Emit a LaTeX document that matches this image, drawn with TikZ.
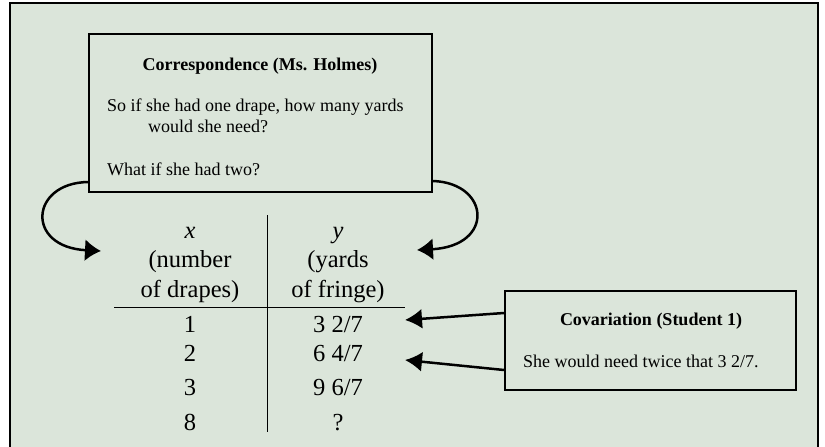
\documentclass[tikz,border=0pt]{standalone}
\usepackage{fontspec}
\setmainfont{Liberation Serif}
\usepackage{tikz}
\usetikzlibrary{calc,arrows.meta}
\definecolor{panel}{HTML}{DBE5DA}

\begin{document}
\begin{tikzpicture}[x=1pt,y=-1pt,
    boxtext/.style={font=\fontsize{18}{21}\selectfont,inner sep=0pt},
    tabtext/.style={font=\fontsize{24.5}{29}\selectfont,inner sep=0pt,anchor=base},
    bigtip/.style={-{Latex[length=16pt,width=22pt]},line width=2.5pt}]
              \useasboundingbox (0,0) rectangle (825,447);
              \fill[white] (0,0) rectangle (825,447);
              \draw[fill=panel,line width=1.3pt] (10,470) -- (10,3) -- (818,3) -- (818,470);
              % correspondence box
              \node[draw,line width=2pt,minimum width=343pt,minimum height=158pt](corr)at(260.5,113){};
              \node[boxtext,font=\fontsize{18}{21}\selectfont\bfseries,anchor=base](corrT)at(260,70){Correspondence (Ms. Holmes)};
              \node[boxtext,anchor=base west](q1)at(107,111){So if she had one drape, how many yards};
              \node[boxtext,anchor=base west](q2)at(148,132){would she need?};
              \node[boxtext,anchor=base west](q3)at(107,175){What if she had two?};
              % table
              \draw[line width=1pt] (267,215) -- (267,432);
              \draw[line width=1pt] (114,307) -- (405,307);
              \node[tabtext](xh)at(190,238){\textit{x}};
              \node[tabtext](xh2)at(190,267){(number};
              \node[tabtext](xh3)at(190,297){of drapes)};
              \node[tabtext](yh)at(338,238){\textit{y}};
              \node[tabtext](yh2)at(338,267){(yards};
              \node[tabtext](yh3)at(338,297){of fringe)};
              \foreach \xv/\yv/\row in {1/3 2\slash 7/332, 2/6 4\slash 7/361, 3/9 6\slash 7/395, 8/?/430}{
                \node[tabtext](x\xv)at(190,\row){\xv};
                \node[tabtext](y\xv)at(338,\row){\yv};
              }
              % covariation box
              \node[draw,line width=2pt,minimum width=291pt,minimum height=99pt](cov)at(650.5,340.5){};
              \node[boxtext,font=\fontsize{18}{21}\selectfont\bfseries,anchor=base](covT)at(651,325){Covariation (Student 1)};
              \node[boxtext,anchor=base west](c1)at(523,367){She would need twice that 3 2/7.};
              % arrows
              \coordinate (ltip) at (101,251);
              \coordinate (rtip) at (417,250);
              \coordinate (tip1) at (405,320);
              \coordinate (tip2) at (405,360);
              \draw[bigtip] ([yshift=11pt]corr.south west) .. controls (30,183) and (25,247) .. (ltip);
              \draw[bigtip] ([yshift=12pt]corr.south east) .. controls (490,183) and (495,246) .. (rtip);
              \draw[-{Latex[length=17pt,width=20pt]},line width=2.5pt] ([yshift=27.5pt]cov.west) -- (tip1);
              \draw[-{Latex[length=17pt,width=20pt]},line width=2.5pt] ([yshift=-29.5pt]cov.west) -- (tip2);
\end{tikzpicture}
\end{document}
